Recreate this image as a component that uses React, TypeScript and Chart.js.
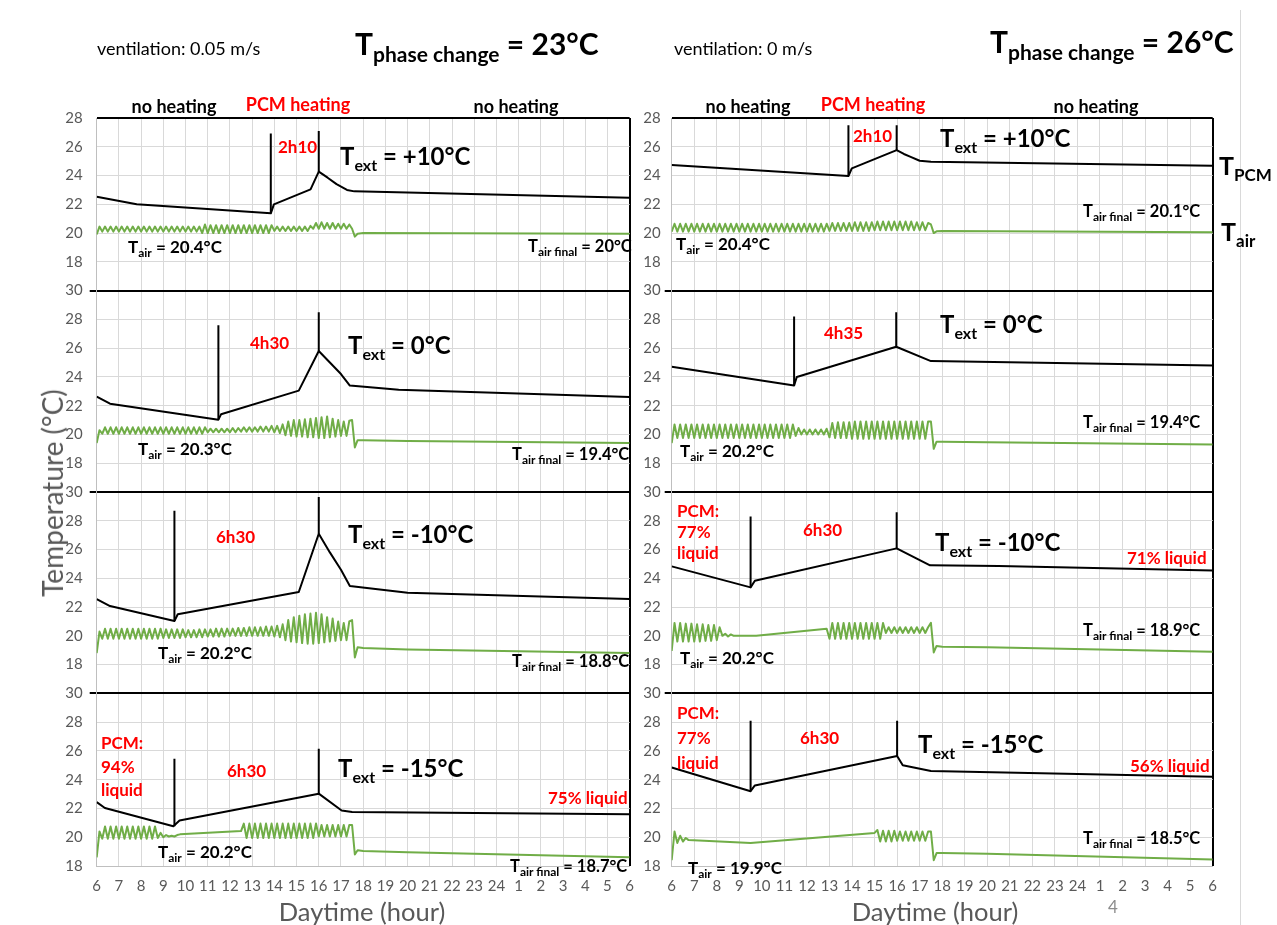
import React, { useEffect, useRef } from "react";
import { Chart, registerables } from "chart.js";
Chart.register(...registerables);

const FONT = "Lato, 'Open Sans', sans-serif";
const GREEN = "#70ad47";
const RED = "#ff0000";

// ---------- axis / tick labels ----------
const X_LABELS = ["6","7","8","9","10","11","12","13","14","15","16","17","18","19","20","21","22","23","24","1","2","3","4","5","6"];
const PANEL_MIN = [16, 16, 16, 18];
const PANEL_MAX = [28, 30, 30, 30];
const PANEL_WEIGHT = [12, 14, 14, 12];

// Tair sampled every 7.5 min from 06:00 to 17:45 (null = not read, line spans)
const AIR_T0 = 6;
const AIR_STEP = 0.125;

// ---------- LEFT column (ventilation 0.05 m/s, Tpc = 23°C) ----------
const PCM_L1_T = [6, 7.8, 13.84, 13.98, 15.63, 16.0, 16.4, 16.8, 17.27, 17.6, 30];
const PCM_L1_V = [22.53, 22.0, 21.37, 22.0, 23.04, 24.27, 23.85, 23.4, 23.0, 22.9, 22.45];
const MARK_L1_T = [13.84, 16.0];
const MARK_L1_LO = [21.37, 24.27];
const MARK_L1_HI = [26.93, 27.1];
const TAIR_L1 = [
  19.9,20.45,20.1,20.45,20.1,20.45,20.1,20.45,
  20.1,20.45,20.1,20.45,20.1,20.45,20.1,20.45,
  20.1,20.45,20.1,20.45,20.1,20.45,20.1,20.45,
  20.1,20.45,20.1,20.45,20.1,20.45,20.1,20.45,
  20.1,20.45,20.1,20.45,20.1,20.45,20.0,20.6,
  20.0,20.55,20.0,20.55,20.0,20.55,20.0,20.55,
  20.0,20.55,20.0,20.55,20.0,20.55,20.0,20.55,
  20.0,20.55,20.0,20.55,20.0,20.55,20.0,20.55,
  20.15,20.45,20.15,20.45,20.15,20.45,20.15,20.45,
  20.15,20.45,20.15,20.45,20.15,20.5,20.3,20.7,
  20.3,20.75,20.3,20.7,20.3,20.7,20.3,20.65,
  20.3,20.65,20.3,20.6,20.3,19.75,19.95
];
const TAIR_L1_TAIL_T = [18, 22, 30];
const TAIR_L1_TAIL_V = [20.0, 19.98, 19.95];

const PCM_L2_T = [6, 6.6, 11.48, 11.6, 15.1, 16.0, 16.5, 17.0, 17.4, 19.6, 30];
const PCM_L2_V = [22.63, 22.14, 21.03, 21.4, 23.05, 25.8, 25.0, 24.2, 23.4, 23.1, 22.6];
const MARK_L2_T = [11.48, 16.0];
const MARK_L2_LO = [21.03, 25.8];
const MARK_L2_HI = [27.6, 28.5];
const TAIR_L2 = [
  19.4,20.3,20.05,20.5,20.05,20.5,20.05,20.5,
  20.05,20.5,20.05,20.5,20.05,20.5,20.05,20.5,
  20.05,20.5,20.05,20.5,20.05,20.5,20.05,20.5,
  20.05,20.5,20.05,20.5,20.05,20.5,20.05,20.5,
  20.05,20.5,20.05,20.5,20.05,20.5,20.05,20.5,
  20.15,20.4,20.15,20.4,20.15,20.4,20.15,20.4,
  20.15,20.45,20.15,20.45,20.2,20.5,20.2,20.5,
  20.2,20.5,20.2,20.55,20.2,20.55,20.2,20.6,
  20.15,20.6,20.1,20.7,19.95,20.9,19.9,21.0,
  19.85,21.0,19.85,21.05,19.8,21.1,19.8,21.15,
  19.75,21.2,19.75,21.25,19.8,21.1,19.85,21.0,
  19.9,20.9,19.9,20.95,21.0,19.1,19.6
];
const TAIR_L2_TAIL_T = [18, 20, 30];
const TAIR_L2_TAIL_V = [19.6, 19.55, 19.4];

const PCM_L3_T = [6, 6.6, 9.5, 9.65, 15.1, 16.0, 16.5, 17.0, 17.4, 20, 30];
const PCM_L3_V = [22.56, 22.07, 21.03, 21.5, 23.05, 27.1, 25.8, 24.6, 23.46, 23.0, 22.56];
const MARK_L3_T = [9.5, 16.0];
const MARK_L3_LO = [21.03, 27.1];
const MARK_L3_HI = [28.7, 29.65];
const TAIR_L3 = [
  18.8,20.3,19.8,20.5,19.8,20.5,19.8,20.5,
  19.8,20.5,19.8,20.5,19.8,20.5,19.8,20.5,
  19.8,20.5,19.8,20.5,19.8,20.5,19.8,20.5,
  19.85,20.45,19.85,20.45,19.85,20.45,19.85,20.45,
  19.9,20.4,19.9,20.4,19.9,20.45,19.9,20.45,
  19.95,20.45,19.95,20.5,19.95,20.5,19.95,20.5,
  20.0,20.5,20.0,20.55,20.0,20.55,20.0,20.6,
  20.0,20.6,20.0,20.6,20.0,20.65,20.0,20.65,
  19.95,20.7,19.9,20.8,19.7,21.1,19.6,21.3,
  19.55,21.4,19.5,21.5,19.45,21.55,19.45,21.6,
  19.5,21.5,19.55,21.3,19.6,21.2,19.65,21.0,
  19.7,20.9,19.7,21.0,21.1,18.5,19.2
];
const TAIR_L3_TAIL_T = [18, 20, 30];
const TAIR_L3_TAIL_V = [19.15, 19.05, 18.8];

const PCM_L4_T = [6, 6.37, 9.45, 9.73, 16.0, 17.03, 17.5, 30];
const PCM_L4_V = [22.44, 22.03, 20.76, 21.17, 23.03, 21.86, 21.75, 21.6];
const MARK_L4_T = [9.5, 16.0];
const MARK_L4_LO = [20.76, 23.03];
const MARK_L4_HI = [25.46, 26.15];
const TAIR_L4 = [
  18.6,20.4,19.9,20.75,19.9,20.75,19.9,20.75,
  19.9,20.75,19.9,20.75,19.9,20.75,19.9,20.75,
  19.9,20.75,19.9,20.75,19.9,20.75,19.95,20.3,
  20.0,20.15,20.05,20.1,20.05,20.15,20.2,null,
  null,null,null,null,null,null,null,null,
  null,null,null,null,null,null,null,null,
  null,null,null,null,20.43,20.95,19.95,20.95,
  19.95,20.95,19.95,20.95,19.95,20.95,19.95,20.95,
  19.95,20.95,19.95,20.95,19.95,20.95,19.95,20.95,
  19.95,20.95,19.95,20.95,19.95,20.95,19.95,20.95,
  20.05,20.85,20.05,20.85,20.05,20.85,20.05,20.85,
  20.05,20.85,20.05,20.85,20.85,18.8,19.1
];
const TAIR_L4_TAIL_T = [18, 20, 30];
const TAIR_L4_TAIL_V = [19.05, 18.95, 18.6];

// ---------- RIGHT column (ventilation 0 m/s, Tpc = 26°C) ----------
const PCM_R1_T = [6, 13.84, 13.99, 15.98, 16.3, 16.6, 17.0, 17.5, 30];
const PCM_R1_V = [24.73, 23.97, 24.5, 25.77, 25.5, 25.3, 25.03, 24.96, 24.68];
const MARK_R1_T = [13.84, 15.98];
const MARK_R1_LO = [24.0, 25.77];
const MARK_R1_HI = [27.5, 27.5];
const TAIR_R1 = [
  20.1,20.65,20.1,20.65,20.1,20.65,20.1,20.65,
  20.1,20.65,20.1,20.65,20.1,20.65,20.1,20.65,
  20.1,20.65,20.1,20.65,20.1,20.65,20.1,20.65,
  20.1,20.65,20.1,20.65,20.1,20.65,20.1,20.65,
  20.1,20.65,20.1,20.65,20.1,20.65,20.1,20.65,
  20.1,20.65,20.1,20.65,20.1,20.65,20.1,20.65,
  20.1,20.65,20.1,20.65,20.1,20.65,20.1,20.65,
  20.15,20.7,20.15,20.7,20.15,20.7,20.15,20.7,
  20.15,20.75,20.15,20.75,20.15,20.75,20.15,20.75,
  20.2,20.8,20.2,20.8,20.2,20.8,20.2,20.8,
  20.2,20.8,20.2,20.8,20.2,20.8,20.2,20.75,
  20.2,20.75,20.2,20.7,20.6,20.0,20.12
];
const TAIR_R1_TAIL_T = [18, 30];
const TAIR_R1_TAIL_V = [20.15, 20.05];

const PCM_R2_T = [6, 11.43, 11.55, 15.96, 17.5, 30];
const PCM_R2_V = [24.7, 23.4, 24.0, 26.1, 25.1, 24.8];
const MARK_R2_T = [11.43, 15.96];
const MARK_R2_LO = [23.4, 26.1];
const MARK_R2_HI = [28.2, 28.5];
const TAIR_R2 = [
  19.4,20.7,19.75,20.7,19.75,20.7,19.75,20.7,
  19.75,20.7,19.75,20.7,19.75,20.7,19.75,20.7,
  19.75,20.7,19.75,20.7,19.75,20.7,19.75,20.7,
  19.75,20.7,19.75,20.7,19.75,20.7,19.75,20.7,
  19.75,20.7,19.75,20.7,19.75,20.7,19.75,20.7,
  19.75,20.7,19.75,20.7,19.9,20.45,20.0,20.35,
  20.0,20.35,20.0,20.35,20.0,20.35,20.0,20.4,
  19.8,20.8,19.75,20.85,19.75,20.85,19.75,20.85,
  19.7,20.9,19.7,20.9,19.7,20.9,19.7,20.9,
  19.7,20.9,19.7,20.9,19.7,20.9,19.7,20.9,
  19.7,20.9,19.7,20.9,19.7,20.9,19.7,20.9,
  19.7,20.9,19.7,20.9,20.9,19.0,19.5
];
const TAIR_R2_TAIL_T = [18, 20, 30];
const TAIR_R2_TAIL_V = [19.5, 19.45, 19.3];

const PCM_R3_T = [6, 9.5, 9.69, 15.98, 17.46, 20.5, 30];
const PCM_R3_V = [24.83, 23.37, 23.83, 26.08, 24.9, 24.85, 24.55];
const MARK_R3_T = [9.5, 15.98];
const MARK_R3_LO = [23.37, 26.08];
const MARK_R3_HI = [28.3, 28.6];
const TAIR_R3 = [
  18.95,20.9,19.6,20.9,19.6,20.85,19.6,20.85,
  19.6,20.8,19.6,20.8,19.65,20.75,19.65,20.75,
  19.7,20.6,20.0,20.15,19.95,20.1,20.0,null,
  null,null,null,null,null,null,20.0,null,
  null,null,null,null,null,null,null,null,
  null,null,null,null,null,null,null,null,
  null,null,null,null,null,null,null,20.5,
  19.8,20.9,19.8,20.9,19.8,20.9,19.8,20.9,
  19.8,20.9,19.8,20.9,19.8,20.9,19.8,20.9,
  19.8,20.9,19.8,20.9,20.2,20.6,20.2,20.6,
  20.2,20.6,20.2,20.6,20.2,20.6,20.2,20.6,
  20.2,20.6,20.2,20.6,20.9,18.85,19.3
];
const TAIR_R3_TAIL_T = [18, 20, 30];
const TAIR_R3_TAIL_V = [19.25, 19.2, 18.9];

const PCM_R4_T = [6, 9.5, 9.69, 16.0, 16.25, 17.5, 30];
const PCM_R4_V = [24.85, 23.2, 23.6, 25.65, 25.0, 24.6, 24.2];
const MARK_R4_T = [9.5, 16.0];
const MARK_R4_LO = [23.2, 25.65];
const MARK_R4_HI = [28.1, 28.1];
const TAIR_R4 = [
  18.4,20.4,19.6,20.1,19.7,19.95,19.8,null,
  null,null,null,null,null,null,null,null,
  null,null,null,null,null,null,null,null,
  null,null,null,null,19.6,null,null,null,
  null,null,null,null,null,null,null,null,
  null,null,null,null,null,null,null,null,
  null,null,null,null,null,null,null,null,
  null,null,null,null,null,null,null,null,
  null,null,null,null,null,null,null,null,
  20.3,20.5,19.7,20.45,19.7,20.45,19.7,20.45,
  19.75,20.4,19.75,20.4,19.75,20.4,19.75,20.4,
  19.75,20.4,19.75,20.4,20.4,18.4,18.9
];
const TAIR_R4_TAIL_T = [18, 20, 30];
const TAIR_R4_TAIL_V = [18.9, 18.85, 18.45];

type Panel = {
  pcmT: number[]; pcmV: number[];
  air: (number | null)[]; tailT: number[]; tailV: number[];
  markT: number[]; markLo: number[]; markHi: number[];
};

const LEFT: Panel[] = [
  { pcmT: PCM_L1_T, pcmV: PCM_L1_V, air: TAIR_L1, tailT: TAIR_L1_TAIL_T, tailV: TAIR_L1_TAIL_V, markT: MARK_L1_T, markLo: MARK_L1_LO, markHi: MARK_L1_HI },
  { pcmT: PCM_L2_T, pcmV: PCM_L2_V, air: TAIR_L2, tailT: TAIR_L2_TAIL_T, tailV: TAIR_L2_TAIL_V, markT: MARK_L2_T, markLo: MARK_L2_LO, markHi: MARK_L2_HI },
  { pcmT: PCM_L3_T, pcmV: PCM_L3_V, air: TAIR_L3, tailT: TAIR_L3_TAIL_T, tailV: TAIR_L3_TAIL_V, markT: MARK_L3_T, markLo: MARK_L3_LO, markHi: MARK_L3_HI },
  { pcmT: PCM_L4_T, pcmV: PCM_L4_V, air: TAIR_L4, tailT: TAIR_L4_TAIL_T, tailV: TAIR_L4_TAIL_V, markT: MARK_L4_T, markLo: MARK_L4_LO, markHi: MARK_L4_HI },
];
const RIGHT: Panel[] = [
  { pcmT: PCM_R1_T, pcmV: PCM_R1_V, air: TAIR_R1, tailT: TAIR_R1_TAIL_T, tailV: TAIR_R1_TAIL_V, markT: MARK_R1_T, markLo: MARK_R1_LO, markHi: MARK_R1_HI },
  { pcmT: PCM_R2_T, pcmV: PCM_R2_V, air: TAIR_R2, tailT: TAIR_R2_TAIL_T, tailV: TAIR_R2_TAIL_V, markT: MARK_R2_T, markLo: MARK_R2_LO, markHi: MARK_R2_HI },
  { pcmT: PCM_R3_T, pcmV: PCM_R3_V, air: TAIR_R3, tailT: TAIR_R3_TAIL_T, tailV: TAIR_R3_TAIL_V, markT: MARK_R3_T, markLo: MARK_R3_LO, markHi: MARK_R3_HI },
  { pcmT: PCM_R4_T, pcmV: PCM_R4_V, air: TAIR_R4, tailT: TAIR_R4_TAIL_T, tailV: TAIR_R4_TAIL_V, markT: MARK_R4_T, markLo: MARK_R4_LO, markHi: MARK_R4_HI },
];

function buildConfig(panels: Panel[], padLeft: number, padRight: number, tickPad: number): any {
  const ids = ["y1", "y2", "y3", "y4"];
  const datasets: any[] = [];
  const base = { pointRadius: 0, pointHoverRadius: 0, tension: 0, fill: false, borderJoinStyle: "round" };
  panels.forEach((p, k) => {
    const yAxisID = ids[k];
    const airPts: any[] = [];
    p.air.forEach((v, i) => airPts.push({ x: AIR_T0 + i * AIR_STEP, y: v }));
    p.tailT.forEach((t, i) => airPts.push({ x: t, y: p.tailV[i] }));
    datasets.push({ ...base, data: airPts, borderColor: GREEN, borderWidth: 2, yAxisID, spanGaps: true });
    datasets.push({ ...base, data: p.pcmT.map((t, i) => ({ x: t, y: p.pcmV[i] })), borderColor: "#000", borderWidth: 2, yAxisID });
    p.markT.forEach((t, i) => {
      datasets.push({ ...base, data: [{ x: t, y: p.markLo[i] }, { x: t, y: p.markHi[i] }], borderColor: "#000", borderWidth: 2, yAxisID });
    });
  });
  const scales: any = {
    x: {
      type: "linear", min: 6, max: 30, position: "bottom",
      afterFit: (s: any) => { s.height = 30; },
      ticks: {
        stepSize: 1, autoSkip: false, maxTicksLimit: 40, maxRotation: 0, padding: 11,
        color: "#595959", font: { family: FONT, size: 15 },
        callback: (v: number) => X_LABELS[Math.round(v) - 6],
      },
      grid: {
        color: (c: any) => (c.tick && c.tick.value === 30 ? "#000" : "#d9d9d9"),
        lineWidth: (c: any) => (c.tick && c.tick.value === 30 ? 2 : 1),
        drawTicks: false,
      },
      border: { color: "#bfbfbf" },
    },
  };
  ids.forEach((id, k) => {
    const min = PANEL_MIN[k], max = PANEL_MAX[k];
    scales[id] = {
      type: "linear", position: "left", stack: "col", stackWeight: PANEL_WEIGHT[k], weight: 4 - k,
      min, max, offset: false,
      afterFit: (s: any) => { s.width = 40; },
      ticks: {
        stepSize: 2, autoSkip: false, color: "#595959", font: { family: FONT, size: 15 }, padding: tickPad,
        callback: (v: number) => (v === min && k < 3 ? "" : String(v)),
      },
      grid: {
        color: (c: any) => (c.tick.value === max ? "#000" : c.tick.value === min && k < 3 ? "rgba(0,0,0,0)" : "#d9d9d9"),
        lineWidth: (c: any) => (c.tick.value === max ? 2 : 1),
        tickColor: (c: any) => (c.tick.value === max && k > 0 ? "#000" : "rgba(0,0,0,0)"),
        tickWidth: 2, tickLength: 7, drawTicks: true,
      },
      border: { color: "#bfbfbf", width: 1 },
    };
  });
  return {
    type: "line",
    data: { datasets },
    options: {
      animation: false, responsive: false, maintainAspectRatio: false, devicePixelRatio: 1,
      layout: { padding: { left: padLeft, right: padRight, top: 118, bottom: 29 } },
      plugins: { legend: { display: false }, tooltip: { enabled: false } },
      events: [],
      scales,
    },
  };
}

function Column(props: { panels: Panel[]; left: number; width: number; padLeft: number; padRight: number; tickPad: number }) {
  const ref = useRef<HTMLCanvasElement>(null);
  useEffect(() => {
    const chart = new Chart(ref.current as HTMLCanvasElement, buildConfig(props.panels, props.padLeft, props.padRight, props.tickPad));
    return () => chart.destroy();
  }, []);
  return (
    <canvas ref={ref} width={props.width} height={925}
      style={{ position: "absolute", left: props.left, top: 0, width: props.width, height: 925 }} />
  );
}

function L(props: { x: number; y: number; size: number; color?: string; bold?: boolean; center?: boolean; children: any }) {
  return (
    <div style={{
      position: "absolute", left: props.x, top: props.y,
      transform: props.center ? "translate(-50%,-50%)" : "translateY(-50%)",
      fontSize: props.size, color: props.color || "#000", fontWeight: props.bold === false ? 400 : 700,
      fontFamily: FONT, whiteSpace: "nowrap", lineHeight: 1,
    }}>{props.children}</div>
  );
}
function S(props: { size: number; children: any }) {
  return <span style={{ fontSize: props.size, verticalAlign: -Math.round(props.size * 0.35) }}>{props.children}</span>;
}
const Ext = (p: { x: number; y: number; v: string }) => (
  <L x={p.x} y={p.y} size={24}>T<S size={16}>ext</S> = {p.v}</L>
);
const Air = (p: { x: number; y: number; v: string }) => (
  <L x={p.x} y={p.y} size={17}>T<S size={12}>air</S> = {p.v}</L>
);
const AirF = (p: { x: number; y: number; v: string }) => (
  <L x={p.x} y={p.y} size={16.5}>T<S size={12}>air final</S> = {p.v}</L>
);
const Red = (p: { x: number; y: number; children: any }) => (
  <L x={p.x} y={p.y} size={17} color={RED}>{p.children}</L>
);

export default function App() {
  return (
    <div style={{ position: "absolute", left: 0, top: 0, width: 1277, height: 925, background: "#fff", overflow: "hidden", fontFamily: FONT }}>
      <Column panels={LEFT} left={0} width={645} padLeft={56.7} padRight={12.3} tickPad={7} />
      <Column panels={RIGHT} left={620} width={620} padLeft={11.7} padRight={27.3} tickPad={4} />
      <div style={{ position: "absolute", left: 1240, top: 10, width: 1, height: 915, background: "#d9d9d9" }} />

      {/* headers */}
      <L x={97} y={48} size={18} bold={false}>ventilation: 0.05 m/s</L>
      <L x={355} y={46} size={30}>T<S size={21}>phase change</S> = 23°C</L>
      <L x={674} y={48} size={18} bold={false}>ventilation: 0 m/s</L>
      <L x={990} y={44} size={30}>T<S size={21}>phase change</S> = 26°C</L>

      <L x={174} y={106} size={18} center>no heating</L>
      <L x={298} y={104} size={18} center color={RED}>PCM heating</L>
      <L x={516} y={106} size={18} center>no heating</L>
      <L x={748} y={106} size={18} center>no heating</L>
      <L x={873} y={104} size={18} center color={RED}>PCM heating</L>
      <L x={1096} y={106} size={18} center>no heating</L>

      {/* left column annotations */}
      <Red x={278} y={146}>2h10</Red>
      <Ext x={340} y={158} v="+10°C" />
      <Air x={128} y={248} v="20.4°C" />
      <AirF x={528} y={248} v="20°C" />

      <Red x={250} y={342}>4h30</Red>
      <Ext x={348} y={347} v="0°C" />
      <Air x={138} y={450} v="20.3°C" />
      <AirF x={512} y={456} v="19.4°C" />

      <Red x={216} y={536}>6h30</Red>
      <Ext x={348} y={536} v="-10°C" />
      <Air x={158} y={654} v="20.2°C" />
      <AirF x={512} y={663} v="18.8°C" />

      <Red x={101} y={742}>PCM:</Red>
      <Red x={101} y={766}>94%</Red>
      <Red x={101} y={789}>liquid</Red>
      <Red x={227} y={770}>6h30</Red>
      <Ext x={338} y={770} v="-15°C" />
      <Red x={548} y={797}>75% liquid</Red>
      <Air x={158} y={853} v="20.2°C" />
      <AirF x={510} y={868} v="18.7°C" />

      {/* right column annotations */}
      <Red x={853} y={135}>2h10</Red>
      <Ext x={940} y={140} v="+10°C" />
      <AirF x={1083} y={213} v="20.1°C" />
      <Air x={676} y={245} v="20.4°C" />
      <L x={1219} y={168} size={25}>T<S size={17}>PCM</S></L>
      <L x={1221} y={234} size={25}>T<S size={17}>air</S></L>

      <Red x={824} y={332}>4h35</Red>
      <Ext x={940} y={326} v="0°C" />
      <AirF x={1083} y={424} v="19.4°C" />
      <Air x={680} y={452} v="20.2°C" />

      <Red x={677} y={510}>PCM:</Red>
      <Red x={677} y={531}>77%</Red>
      <Red x={677} y={552}>liquid</Red>
      <Red x={803} y={529}>6h30</Red>
      <Ext x={935} y={544} v="-10°C" />
      <Red x={1127} y={557}>71% liquid</Red>
      <AirF x={1083} y={632} v="18.9°C" />
      <Air x={680} y={659} v="20.2°C" />

      <Red x={677} y={712}>PCM:</Red>
      <Red x={677} y={737}>77%</Red>
      <Red x={677} y={762}>liquid</Red>
      <Red x={800} y={737}>6h30</Red>
      <Ext x={918} y={746} v="-15°C" />
      <Red x={1130} y={765}>56% liquid</Red>
      <AirF x={1083} y={840} v="18.5°C" />
      <Air x={688} y={869} v="19.9°C" />

      {/* axis titles */}
      <div style={{ position: "absolute", left: 52, top: 493, transform: "translate(-50%,-50%) rotate(-90deg)", fontSize: 28, color: "#595959", fontFamily: FONT, whiteSpace: "nowrap" }}>Temperature (°C)</div>
      <L x={362} y={912} size={25.5} bold={false} center color="#595959">Daytime (hour)</L>
      <L x={935} y={912} size={25.5} bold={false} center color="#595959">Daytime (hour)</L>
      <L x={1113} y={906} size={17} bold={false} center color="#8c8c8c">4</L>
    </div>
  );
}
